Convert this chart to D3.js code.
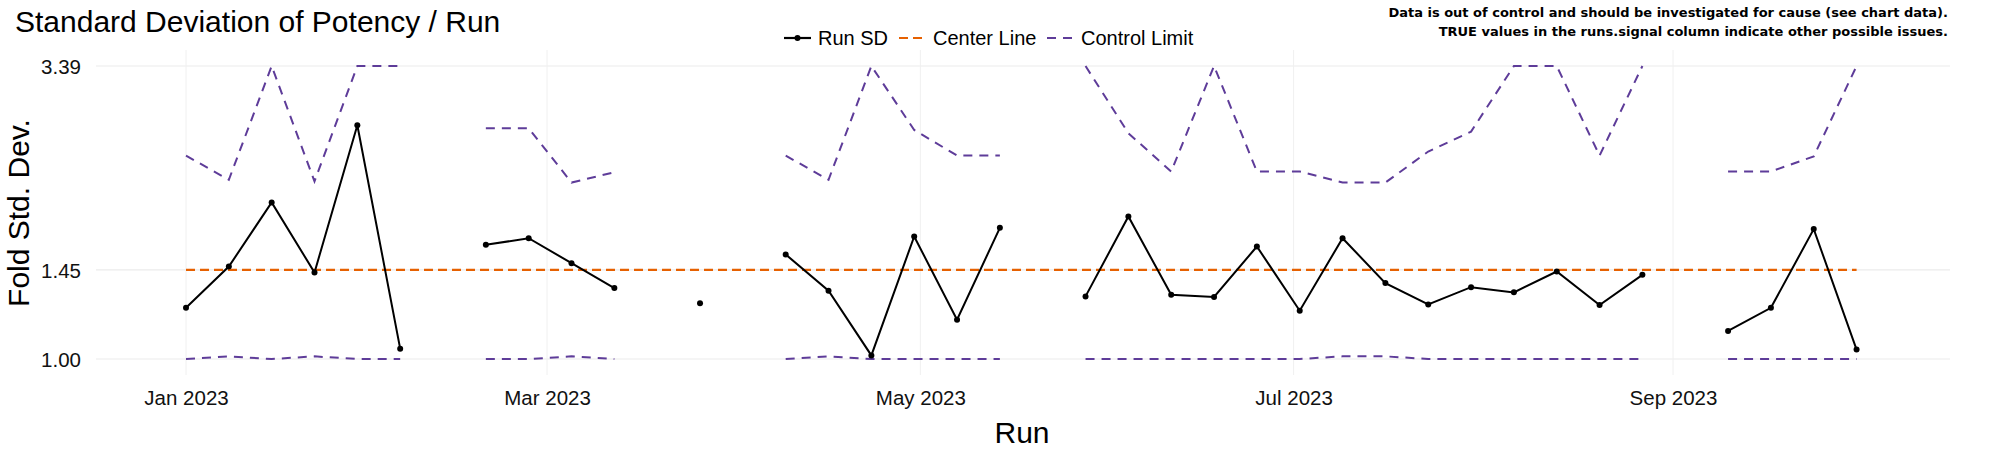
<!DOCTYPE html>
<html>
<head>
<meta charset="utf-8">
<script src="https://cdn.jsdelivr.net/npm/d3@7"></script>
<style>
  body { margin: 0; background: #fff; }
  text { font-family: "Liberation Sans", Arial, sans-serif; }
</style>
</head>
<body>
<script>
// weekly runs, starting 2023-01-01; null = no run that week
var runSD = [1.238, 1.470, 1.920, 1.434, 2.649, 1.044, null,
             1.609, 1.654, 1.491, 1.344, null, 1.261, null,
             1.546, 1.329, 1.015, 1.666, 1.178, 1.727, null,
             1.298, 1.811, 1.307, 1.295, 1.598, 1.223, 1.654, 1.372, 1.255, 1.349, 1.320, 1.440, 1.252, 1.420, null,
             1.124, 1.238, 1.718, 1.040];
var upperLimit = [2.334, 2.110, 3.39, 2.096, 3.39, 3.39, null,
                  2.616, 2.616, 2.086, 2.178, null, null, null,
                  2.334, 2.110, 3.39, 2.597, 2.334, 2.334, null,
                  3.39, 2.562, 2.184, 3.39, 2.184, 2.184, 2.086, 2.086, 2.374, 2.579, 3.39, 3.39, 2.334, 3.39, null,
                  2.184, 2.184, 2.326, 3.39];
var lowerLimit = [1.0, 1.011, 1.0, 1.011, 1.0, 1.0, null,
                  1.0, 1.0, 1.011, 1.0, null, null, null,
                  1.0, 1.011, 1.0, 1.0, 1.0, 1.0, null,
                  1.0, 1.0, 1.0, 1.0, 1.0, 1.0, 1.011, 1.011, 1.0, 1.0, 1.0, 1.0, 1.0, 1.0, null,
                  1.0, 1.0, 1.0, 1.0];
var centerLine = 1.45;
var yTicks = [1.00, 1.45, 3.39];
var xTicks = [new Date(2023, 0, 1), new Date(2023, 2, 1), new Date(2023, 4, 1), new Date(2023, 6, 1), new Date(2023, 8, 1)];
var start = new Date(2023, 0, 1);
var dates = runSD.map(function(d, i){ return d3.timeDay.offset(start, 7 * i); });

var width = 2000, height = 450,
    panel = {left: 96, right: 1950, top: 50, bottom: 375};

var svg = d3.select("body").append("svg")
    .attr("width", width).attr("height", height);

var x = d3.scaleTime()
    .domain([new Date(2023, 0, 1), new Date(2023, 8, 1)])
    .range([186, 1673]);
var y = d3.scaleLog()
    .domain([1.0, 3.39])
    .range([359, 66]);

// grid
svg.append("g").selectAll("line").data(yTicks).join("line")
    .attr("x1", panel.left).attr("x2", panel.right)
    .attr("y1", y).attr("y2", y)
    .attr("stroke", "#ebebeb").attr("stroke-width", 1.2);
svg.append("g").selectAll("line").data(xTicks).join("line")
    .attr("x1", x).attr("x2", x)
    .attr("y1", panel.top).attr("y2", panel.bottom)
    .attr("stroke", "#f0f0f0").attr("stroke-width", 1);

// axes
var yAxis = svg.append("g")
    .attr("transform", "translate(" + (panel.left - 12) + ",0)")
    .call(d3.axisLeft(y).tickValues(yTicks).tickFormat(d3.format(".2f")).tickSize(0));
var xAxis = svg.append("g")
    .attr("transform", "translate(0," + 385 + ")")
    .call(d3.axisBottom(x).tickValues(xTicks).tickFormat(d3.timeFormat("%b %Y")).tickSize(0));
[yAxis, xAxis].forEach(function(a){
    a.select(".domain").remove();
    a.selectAll("text").attr("font-size", 20.5).attr("fill", "#111")
        .style("font-family", "Liberation Sans, Arial, sans-serif");
});
xAxis.selectAll("text").attr("dy", "0.85em");
yAxis.selectAll("text").attr("dy", "0.35em");

function lineFor(vals){
    return d3.line()
        .defined(function(d){ return d != null; })
        .x(function(d, i){ return x(dates[i]); })
        .y(function(d){ return y(d); })(vals);
}

var purple = "#5e3c99", orange = "#e66101";

svg.append("path").attr("d", lineFor(upperLimit))
    .attr("fill", "none").attr("stroke", purple).attr("stroke-width", 2)
    .attr("stroke-dasharray", "9,7");
svg.append("path").attr("d", lineFor(lowerLimit))
    .attr("fill", "none").attr("stroke", purple).attr("stroke-width", 2)
    .attr("stroke-dasharray", "9,7");

svg.append("line")
    .attr("x1", x(dates[0])).attr("x2", x(dates[dates.length - 1]))
    .attr("y1", y(centerLine)).attr("y2", y(centerLine))
    .attr("stroke", orange).attr("stroke-width", 2.2)
    .attr("stroke-dasharray", "9,5");

svg.append("path").attr("d", lineFor(runSD))
    .attr("fill", "none").attr("stroke", "#000").attr("stroke-width", 2);
svg.append("g").selectAll("circle")
    .data(runSD.map(function(d, i){ return {v: d, t: dates[i]}; }).filter(function(d){ return d.v != null; }))
    .join("circle")
    .attr("cx", function(d){ return x(d.t); })
    .attr("cy", function(d){ return y(d.v); })
    .attr("r", 3).attr("fill", "#000");

// titles
svg.append("text").attr("x", 15).attr("y", 32)
    .attr("font-size", 30).text("Standard Deviation of Potency / Run");
svg.append("text").attr("x", 1022).attr("y", 443)
    .attr("text-anchor", "middle").attr("font-size", 30).text("Run");
svg.append("text")
    .attr("transform", "translate(29,213) rotate(-90)")
    .attr("text-anchor", "middle").attr("font-size", 30).text("Fold Std. Dev.");

// annotation
var note = svg.append("g").attr("font-weight", "bold").attr("text-anchor", "end");
note.append("text").attr("x", 1948).attr("y", 17).attr("font-size", 13)
    .style("font-family", "DejaVu Sans, sans-serif")
    .text("Data is out of control and should be investigated for cause (see chart data).");
note.append("text").attr("x", 1948).attr("y", 36).attr("font-size", 13)
    .style("font-family", "DejaVu Sans, sans-serif")
    .text("TRUE values in the runs.signal column indicate other possible issues.");

// legend
var legend = [
    {label: "Run SD", x: 784, color: "#000", dash: null},
    {label: "Center Line", x: 899, color: orange, dash: "9,5"},
    {label: "Control Limit", x: 1047, color: purple, dash: "9,7"}
];
var lg = svg.append("g").selectAll("g").data(legend).join("g")
    .attr("transform", function(d){ return "translate(" + d.x + ",38)"; });
lg.append("line").attr("x1", 0).attr("x2", 27).attr("y1", 0).attr("y2", 0)
    .attr("stroke", function(d){ return d.color; }).attr("stroke-width", 2.2)
    .attr("stroke-dasharray", function(d){ return d.dash; });
lg.filter(function(d){ return !d.dash; }).append("circle")
    .attr("cx", 13.5).attr("r", 3).attr("fill", "#000");
lg.append("text").attr("x", 34).attr("dy", "0.35em").attr("font-size", 20)
    .text(function(d){ return d.label; });
</script>
</body>
</html>
